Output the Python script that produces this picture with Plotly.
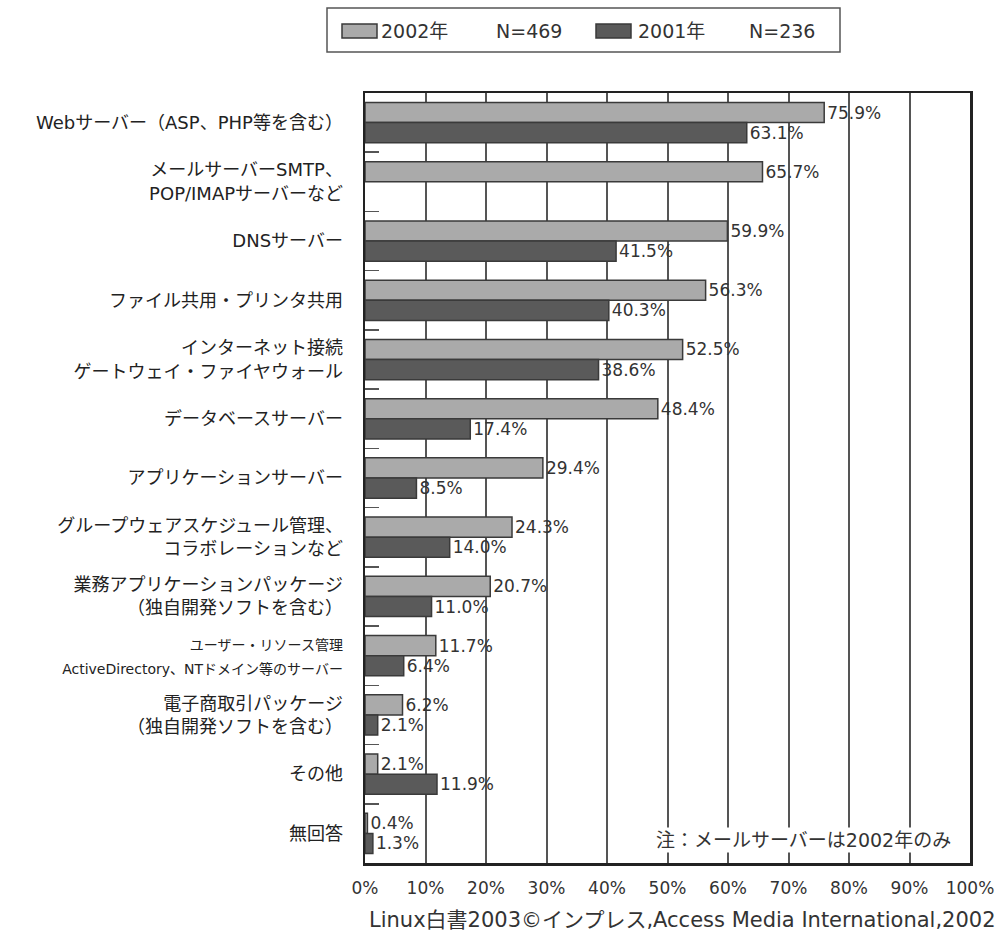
import plotly.graph_objects as go

categories = [
    "Webサーバー（ASP、PHP等を含む）",
    "メールサーバーSMTP、<br>POP/IMAPサーバーなど",
    "DNSサーバー",
    "ファイル共用・プリンタ共用",
    "インターネット接続<br>ゲートウェイ・ファイヤウォール",
    "データベースサーバー",
    "アプリケーションサーバー",
    "グループウェアスケジュール管理、<br>コラボレーションなど",
    "業務アプリケーションパッケージ<br>（独自開発ソフトを含む）",
    "<span style='font-size:14px'>ユーザー・リソース管理<br>ActiveDirectory、NTドメイン等のサーバー</span>",
    "電子商取引パッケージ<br>（独自開発ソフトを含む）",
    "その他",
    "無回答",
]
values_2002 = [75.9, 65.7, 59.9, 56.3, 52.5, 48.4, 29.4, 24.3, 20.7, 11.7, 6.2, 2.1, 0.4]
values_2001 = [63.1, None, 41.5, 40.3, 38.6, 17.4, 8.5, 14.0, 11.0, 6.4, 2.1, 11.9, 1.3]
x_ticks = [0, 10, 20, 30, 40, 50, 60, 70, 80, 90, 100]
x_tick_labels = [f"{t}%" for t in x_ticks]
series_names = ["2002年", "2001年"]
series_n = ["N=469", "N=236"]
series_colors = ["#aaaaaa", "#5a5a5a"]

FONT = "DejaVu Sans, Noto Sans CJK JP"
W, H = 1003, 934
L, R, T, B = 365, 33, 93, 71
PW, PH = W - L - R, H - T - B

def px(x):
    return (x - L) / PW

def py(y):
    return (H - B - y) / PH

def fmt(vals):
    return [("" if v is None else f"{v:.1f}%") for v in vals]

fig = go.Figure()
for name, vals, col in zip(series_names, [values_2002, values_2001], series_colors):
    fig.add_trace(go.Bar(
        y=categories, x=vals, orientation="h", name=name,
        marker=dict(color=col, line=dict(color="#3a3a3a", width=1.5)),
        text=fmt(vals), textposition="outside",
        textfont=dict(family=FONT, size=17, color="#333333"),
        cliponaxis=False, showlegend=False, hoverinfo="skip",
    ))

fig.update_layout(
    width=W, height=H,
    barmode="group", bargap=0.32, bargroupgap=0.0,
    paper_bgcolor="white", plot_bgcolor="white",
    font=dict(family=FONT, size=18, color="#222222"),
    margin=dict(l=L, r=R, t=T, b=B, autoexpand=False),
    showlegend=False,
)
fig.update_xaxes(
    range=[0, 100], tickvals=x_ticks, ticktext=x_tick_labels,
    showgrid=True, gridcolor="#555555", gridwidth=2,
    showline=True, linecolor="#222222", linewidth=2.5, mirror=True,
    ticks="", zeroline=False, automargin=False, ticklabelstandoff=8,
    tickfont=dict(family=FONT, size=17, color="#333333"),
)
fig.update_yaxes(
    autorange="reversed", type="category",
    showline=True, linecolor="#222222", linewidth=2.5, mirror=True,
    ticks="inside", tickson="boundaries", ticklen=14, tickcolor="#555555", tickwidth=1.5,
    showgrid=False, automargin=False, ticklabelstandoff=16,
    tickfont=dict(family=FONT, size=18, color="#222222"),
)

# legend box drawn by hand to get wide bar-shaped swatches
fig.add_shape(type="rect", xref="paper", yref="paper",
              x0=px(327), x1=px(840), y0=py(52), y1=py(8),
              line=dict(color="#555555", width=1.5), fillcolor="white")
swatch_x = [342, 596]
name_x = [379, 636]
n_x = [494, 747]
for i in range(2):
    fig.add_shape(type="rect", xref="paper", yref="paper",
                  x0=px(swatch_x[i]), x1=px(swatch_x[i] + 35), y0=py(38), y1=py(24),
                  line=dict(color="#3a3a3a", width=1.5), fillcolor=series_colors[i])
    fig.add_annotation(text=series_names[i], xref="paper", yref="paper",
                       x=px(name_x[i]), y=py(31), xanchor="left", yanchor="middle",
                       showarrow=False, font=dict(family=FONT, size=19, color="#333333"))
    fig.add_annotation(text=series_n[i], xref="paper", yref="paper",
                       x=px(n_x[i]), y=py(31), xanchor="left", yanchor="middle",
                       showarrow=False, font=dict(family=FONT, size=19, color="#333333"))

fig.add_annotation(
    text="注：メールサーバーは2002年のみ", xref="paper", yref="paper",
    x=px(953), y=py(840), xanchor="right", yanchor="middle", showarrow=False,
    font=dict(family=FONT, size=19, color="#333333"), bgcolor="white",
)
fig.add_annotation(
    text="Linux白書2003©インプレス,Access Media International,2002",
    xref="paper", yref="paper", x=px(998), y=py(920), xanchor="right", yanchor="middle",
    showarrow=False, font=dict(family=FONT, size=21, color="#333333"),
)

fig.write_html(
    "out.html",
    config={"displayModeBar": False, "staticPlot": True},
    post_script="document.body.style.margin='0';document.body.style.overflow='hidden';",
)
